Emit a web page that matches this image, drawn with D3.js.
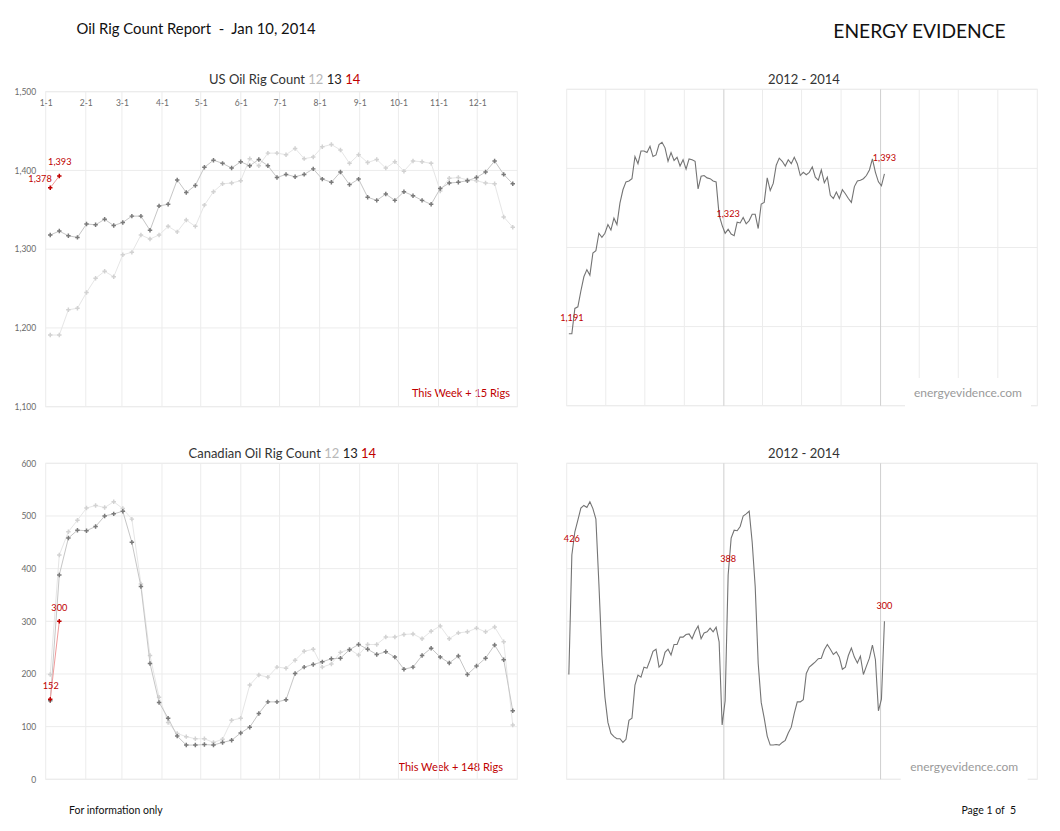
<!DOCTYPE html>
<html><head><meta charset="utf-8">
<script src="https://cdn.jsdelivr.net/npm/d3@7"></script>
<style>
body{margin:0;background:#fff}
svg{display:block}
text{font-family:Lato,"Open Sans",sans-serif}
</style>
</head><body>
<svg id="c" width="1060" height="831"></svg>
<script>
// ---------- DATA ----------
const monthLabels = ["1-1","2-1","3-1","4-1","5-1","6-1","7-1","8-1","9-1","10-1","11-1","12-1"];
const usYTicks = [1100,1200,1300,1400,1500];
const caYTicks = [0,100,200,300,400,500,600];
const yearLabels = ["12","13","14"];
const weekStart = ["2012-01-06","2013-01-04","2014-01-03"];

const us2012 = [1191,1191,1223,1225,1245,1263,1272,1265,1293,1296,1318,1313,1318,1329,1322,1337,1329,1356,1373,1383,1384,1387,1415,1406,1422,1422,1420,1428,1415,1417,1430,1433,1426,1409,1420,1410,1414,1403,1411,1399,1412,1411,1409,1374,1390,1391,1388,1387,1384,1383,1341,1328];
const us2013 = [1318,1323,1317,1315,1332,1331,1338,1330,1334,1342,1342,1324,1355,1357,1388,1372,1381,1404,1413,1409,1403,1411,1406,1414,1406,1391,1395,1392,1395,1402,1389,1385,1398,1382,1389,1366,1362,1370,1362,1373,1368,1362,1357,1377,1384,1385,1387,1391,1398,1412,1395,1383];
const us2014 = [1378,1393];

const ca2012 = [199,426,470,492,515,520,516,527,514,494,371,235,156,108,87,81,77,77,70,76,112,116,179,198,194,213,211,226,243,247,213,219,241,247,236,256,256,270,270,275,276,267,281,291,267,278,280,287,280,289,261,103];
const ca2013 = [149,388,458,473,472,480,500,504,509,450,366,220,146,116,82,65,65,66,65,70,74,88,99,125,147,147,151,201,213,218,223,229,230,246,256,247,237,242,232,209,213,235,249,232,221,234,199,215,230,255,227,130];
const ca2014 = [152,300];

// ---------- STYLE ----------
const GRID = "#ececec", YEARLINE = "#cfcfcf", AXIS_TXT = "#6b6b6b", RED = "#c00000";
const seriesStyle = [
  {line:"#e6e6e6", mark:"#d2d2d2"},   // 2012
  {line:"#c6c6c6", mark:"#7a7a7a"},   // 2013
  {line:"#f09a9a", mark:"#c00000"}    // 2014
];
const titleColors = ["#b8b8b8","#222","#c00000"];

const svg = d3.select("#c");
const fmt = d3.format(",");
const sym = d3.symbol().type(d3.symbolCross).size(11);

// ---------- HEADER / FOOTER ----------
svg.append("text").attr("x",76.5).attr("y",33.5).attr("font-size",15).attr("fill","#111")
  .attr("textLength",239).attr("lengthAdjust","spacingAndGlyphs")
  .attr("xml:space","preserve").text("Oil Rig Count Report  -  Jan 10, 2014");
svg.append("text").attr("x",833.3).attr("y",38).attr("font-size",19.5).attr("fill","#111")
  .attr("textLength",172.4).attr("lengthAdjust","spacingAndGlyphs")
  .text("ENERGY EVIDENCE");
svg.append("text").attr("x",69).attr("y",813.5).attr("font-size",10.5).attr("fill","#111").text("For information only");
svg.append("text").attr("x",1016).attr("y",814).attr("text-anchor","end").attr("font-size",10.5).attr("fill","#111")
  .attr("xml:space","preserve").text("Page 1 of  5");

// ---------- LEFT (year-over-year) CHART ----------
function drawLeft(o){
  const x = d3.scaleLinear().domain([-0.5,51.5]).range([o.x0,o.x1]);
  const xm = d3.scaleUtc().domain([new Date(Date.UTC(2013,0,1)), new Date(Date.UTC(2014,0,1))]).range([o.x0,o.x1]);
  const y = d3.scaleLinear().domain([o.ticks[0], o.ticks[o.ticks.length-1]]).range([o.yBot,o.yTop]);
  const g = svg.append("g");

  // note (drawn under grid as in reference)
  const s = o.series[2];
  const diff = s[s.length-1]-s[s.length-2];
  g.append("text").attr("x",o.noteX).attr("y",o.noteY).attr("text-anchor","end")
    .attr("font-size",11).attr("fill",RED).text(`This Week + ${diff} Rigs`);

  g.append("g").selectAll("line").data(o.ticks).join("line")
    .attr("x1",o.x0).attr("x2",o.x1).attr("y1",d=>y(d)).attr("y2",d=>y(d)).attr("stroke",GRID);
  const months = d3.utcMonth.range(xm.domain()[0], xm.domain()[1]);
  g.append("g").selectAll("line").data(months.slice(1)).join("line")
    .attr("x1",d=>xm(d)).attr("x2",d=>xm(d)).attr("y1",o.yTop).attr("y2",o.yBot).attr("stroke",GRID);
  g.append("rect").attr("x",o.x0).attr("y",o.yTop).attr("width",o.x1-o.x0).attr("height",o.yBot-o.yTop)
    .attr("fill","none").attr("stroke",GRID);

  // y axis
  const ya = g.append("g").attr("transform",`translate(${o.x0},0)`)
    .call(d3.axisLeft(y).tickValues(o.ticks).tickSize(0).tickPadding(9.5).tickFormat(fmt));
  ya.select(".domain").remove();
  ya.selectAll("text").attr("font-family","Lato").attr("font-size",8.5).attr("fill",AXIS_TXT);

  if(o.showMonths){
    const xa = g.append("g").attr("transform",`translate(0,${o.yTop+11.5})`)
      .call(d3.axisBottom(xm).tickValues(months).tickSize(0).tickPadding(0).tickFormat((d,i)=>monthLabels[i]));
    xa.select(".domain").remove();
    xa.selectAll("text").attr("dy","0.35em").attr("font-family","Lato").attr("font-size",8.5).attr("fill",AXIS_TXT);
  }

  const line = d3.line().x((d,i)=>x(i)).y(d=>y(d));
  o.series.forEach((arr,k)=>{
    const st = seriesStyle[k];
    g.append("path").datum(arr).attr("d",line).attr("fill","none").attr("stroke",st.line).attr("stroke-width",1);
    g.append("g").selectAll("path").data(arr).join("path")
      .attr("d",sym).attr("transform",(d,i)=>`translate(${x(i)},${y(d)})`).attr("fill",st.mark);
  });

  // red labels for 2014 points
  o.labelOffsets.forEach((off,i)=>{
    const v = s[i];
    g.append("text").attr("x",x(i)+off[0]).attr("y",y(v)+off[1]).attr("text-anchor",off[2])
      .attr("font-size",9.2).attr("fill",RED).text(fmt(v));
  });

  // title
  const t = svg.append("text").attr("x",o.titleX).attr("y",o.titleY).attr("font-size",13).attr("fill","#333")
    .attr("xml:space","preserve");
  t.append("tspan").text(o.title+" ");
  yearLabels.forEach((yl,k)=>{
    t.append("tspan").attr("fill",titleColors[k]).text(yl);
    if(k<2) t.append("tspan").text(" ");
  });
}

// ---------- RIGHT (2012-2014) CHART ----------
function drawRight(o){
  const x = d3.scaleUtc().domain([new Date(Date.UTC(2012,0,1)), new Date(Date.UTC(2015,0,1))]).range([o.x0,o.x1]);
  const y = d3.scaleLinear().domain([o.ticks[0], o.ticks[o.ticks.length-1]]).range([o.yBot,o.yTop]);
  const g = svg.append("g");

  g.append("g").selectAll("line").data(o.ticks).join("line")
    .attr("x1",o.x0).attr("x2",o.x1).attr("y1",d=>y(d)).attr("y2",d=>y(d)).attr("stroke",GRID);
  if(o.quarters){
    const q = d3.utcMonth.every(3).range(x.domain()[0], x.domain()[1]).slice(1)
      .filter(d=>d.getUTCMonth()!==0);
    g.append("g").selectAll("line").data(q).join("line")
      .attr("x1",d=>x(d)).attr("x2",d=>x(d)).attr("y1",o.yTop).attr("y2",o.yBot).attr("stroke",GRID);
  }
  g.append("rect").attr("x",o.x0).attr("y",o.yTop).attr("width",o.x1-o.x0).attr("height",o.yBot-o.yTop)
    .attr("fill","none").attr("stroke",GRID);
  const yrs = d3.utcYear.range(new Date(Date.UTC(2012,6,1)), x.domain()[1]);
  g.append("g").selectAll("line").data(yrs).join("line")
    .attr("x1",d=>x(d)).attr("x2",d=>x(d)).attr("y1",o.yTop).attr("y2",o.yBot).attr("stroke",YEARLINE);

  const pts = [];
  o.series.forEach((arr,k)=>{
    const start = new Date(weekStart[k]+"T00:00:00Z");
    arr.forEach((v,i)=>pts.push({d:d3.utcDay.offset(start,7*i), v, k, i}));
  });
  g.append("path").datum(pts).attr("d",d3.line().x(p=>x(p.d)).y(p=>y(p.v)))
    .attr("fill","none").attr("stroke","#747474").attr("stroke-width",1.1);

  g.append("g").selectAll("text").data(pts.filter(p=>p.i===1)).join("text")
    .attr("x",p=>x(p.d)).attr("y",p=>y(p.v)-12.6).attr("text-anchor","middle")
    .attr("font-size",9.2).attr("fill",RED).text(p=>fmt(p.v));

  // watermark
  g.append("rect").attr("x",o.wmX).attr("y",o.wmY).attr("width",o.wmW).attr("height",o.yBot-o.wmY+2).attr("fill","#fff");
  g.append("text").attr("x",o.wmX+o.wmW/2).attr("y",o.wmBase).attr("text-anchor","middle")
    .attr("font-size",12).attr("fill","#9a9a9a").text("energyevidence.com");

  svg.append("text").attr("x",o.titleX).attr("y",o.titleY).attr("text-anchor","middle")
    .attr("font-size",13).attr("fill","#333").text(`20${yearLabels[0]} - 20${yearLabels[2]}`);
}

drawLeft({x0:45.7,x1:517.3,yTop:91.7,yBot:406.7,ticks:usYTicks,series:[us2012,us2013,us2014],showMonths:true,
  title:"US Oil Rig Count",titleX:209,titleY:83.5,noteX:510,noteY:396.7,
  labelOffsets:[[1.5,-5.5,"end"],[0.5,-10.5,"middle"]]});
drawLeft({x0:45.7,x1:517.3,yTop:463.3,yBot:779.3,ticks:caYTicks,series:[ca2012,ca2013,ca2014],showMonths:false,
  title:"Canadian Oil Rig Count",titleX:188.5,titleY:457.5,noteX:503,noteY:770.7,
  labelOffsets:[[0.5,-10,"middle"],[0,-10,"middle"]]});

drawRight({x0:566.7,x1:1037.3,yTop:89.3,yBot:405.7,ticks:usYTicks,series:[us2012,us2013,us2014],quarters:true,
  titleX:804,titleY:83.5,wmX:905,wmY:378,wmW:126,wmBase:396.7});
drawRight({x0:566.7,x1:1037.3,yTop:463.3,yBot:779.3,ticks:caYTicks,series:[ca2012,ca2013,ca2014],quarters:false,
  titleX:804,titleY:457.5,wmX:900.7,wmY:752,wmW:127,wmBase:770.7});
</script>
</body></html>
